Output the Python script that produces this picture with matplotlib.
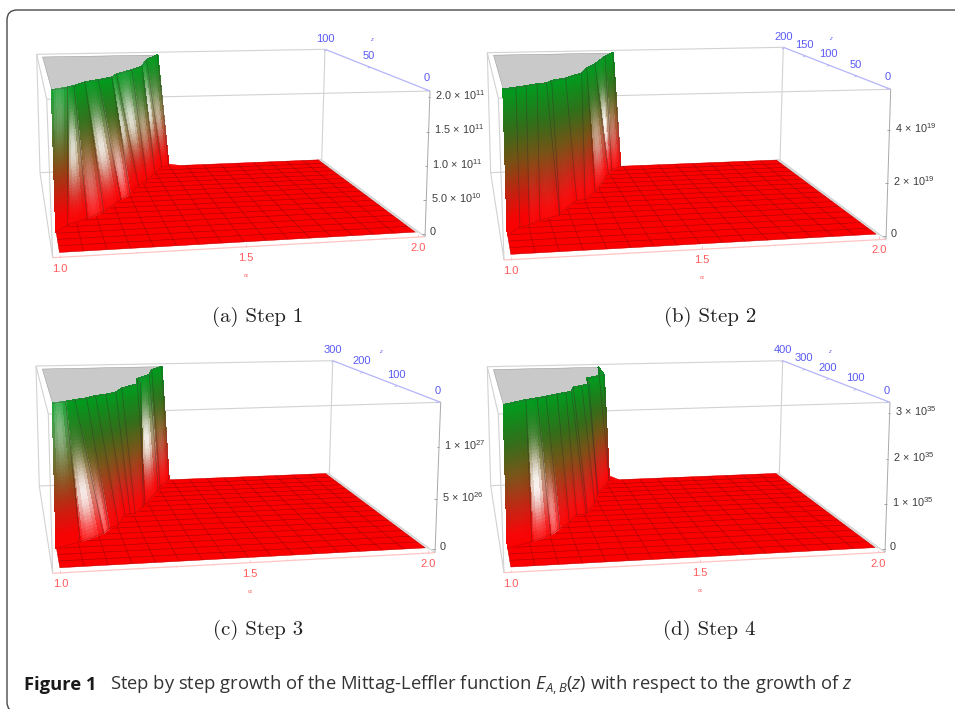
import numpy as np
import matplotlib
matplotlib.use("Agg")
import matplotlib.pyplot as plt
from matplotlib.collections import PolyCollection
from matplotlib.patches import FancyBboxPatch, Polygon

plt.rcParams['mathtext.fontset'] = 'custom'
plt.rcParams['mathtext.rm'] = 'Liberation Sans'
plt.rcParams['mathtext.it'] = 'Liberation Sans:italic'
plt.rcParams['mathtext.default'] = 'regular'
plt.rcParams['axes.unicode_minus'] = False

# ---------------- data ----------------
panel_names = ["(a) Step 1", "(b) Step 2", "(c) Step 3", "(d) Step 4"]
alpha_ticks = [1.0, 1.5, 2.0]
alpha_labels = ["1.0", "1.5", "2.0"]

z_max = [100, 200, 300, 400]
z_ticks = [[0, 50, 100], [0, 50, 100, 150, 200], [0, 100, 200, 300], [0, 100, 200, 300, 400]]
h_max = [2.05e11, 5.4e19, 1.39e27, 3.15e35]
h_ticks = [[0, 5e10, 1e11, 1.5e11, 2e11], [0, 2e19, 4e19], [0, 5e26, 1e27], [0, 1e35, 2e35, 3e35]]
h_labels = [
    ["0", r"5.0$\,\times\,$10$^{10}$", r"1.0$\,\times\,$10$^{11}$", r"1.5$\,\times\,$10$^{11}$", r"2.0$\,\times\,$10$^{11}$"],
    ["0", r"2$\,\times\,$10$^{19}$", r"4$\,\times\,$10$^{19}$"],
    ["0", r"5$\,\times\,$10$^{26}$", r"1$\,\times\,$10$^{27}$"],
    ["0", r"1$\,\times\,$10$^{35}$", r"2$\,\times\,$10$^{35}$", r"3$\,\times\,$10$^{35}$"],
]

# top edge of the wall (where the surface reaches the ceiling) and its foot on the floor
crest_alpha_a = [1.000, 1.045, 1.065, 1.100, 1.142, 1.186, 1.207, 1.264, 1.305, 1.343, 1.399]
crest_z_a = [21, 25, 28, 35, 39, 44, 51, 60, 68, 86, 100]
foot_alpha_a = [1.000, 1.036, 1.096, 1.151, 1.216, 1.253, 1.293, 1.330, 1.371, 1.409, 1.435]
foot_z_a = [20, 27, 33, 40, 54, 61, 72, 79, 89, 99, 100]
glare_a = [.3, .8, .35, .85, .6, .75, .8, .45, .85, .55]
glare_h_a = [.85, .55, .3, .5, .3, .6, .6, .5, .6, .5]

crest_alpha_b = [1.000, 1.035, 1.064, 1.096, 1.123, 1.141, 1.185, 1.242, 1.270, 1.307, 1.365, 1.405]
crest_z_b = [41, 46, 51, 57, 60, 69, 78, 98, 121, 140, 180, 200]
foot_alpha_b = [1.000, 1.038, 1.065, 1.098, 1.158, 1.161, 1.226, 1.252, 1.295, 1.371, 1.390, 1.428]
foot_z_b = [37, 53, 56, 65, 74, 78, 108, 108, 128, 179, 189, 200]
glare_b = [0, 0, .05, .05, .05, .05, .05, .05, .5, .95, .35]
glare_h_b = [.4, .4, .2, .2, .2, .2, .2, .2, .4, .45, .35]

crest_alpha_c = [1.000, 1.036, 1.063, 1.097, 1.125, 1.156, 1.188, 1.214, 1.282, 1.284, 1.334, 1.359, 1.405]
crest_z_c = [63, 70, 78, 86, 99, 105, 116, 142, 173, 205, 233, 273, 300]
foot_alpha_c = [1.000, 1.068, 1.140, 1.162, 1.192, 1.225, 1.241, 1.257, 1.292, 1.302, 1.370, 1.383, 1.428]
foot_z_c = [56, 73, 96, 112, 122, 161, 160, 162, 187, 197, 254, 269, 300]
glare_c = [.45, .9, .5, .05, .05, .05, .05, .05, 0, .9, .3, .2]
glare_h_c = [.8, .35, .2, .3, .3, .3, .3, .3, .3, .5, .4, .35]

crest_alpha_d = [1.000, 1.065, 1.098, 1.125, 1.160, 1.188, 1.206, 1.221, 1.249, 1.277, 1.286, 1.349, 1.358]
crest_z_d = [73, 106, 117, 128, 145, 156, 164, 201, 211, 228, 283, 313, 400]
foot_alpha_d = [1.000, 1.070, 1.128, 1.161, 1.195, 1.226, 1.256, 1.262, 1.300, 1.322, 1.328, 1.391, 1.391]
foot_z_d = [72, 95, 120, 148, 172, 208, 211, 217, 265, 311, 321, 400, 400]
glare_d = [.03, .95, .5, .05, .05, .05, .05, .05, .05, .05, .05, .03]
glare_h_d = [.4, .4, .2, .2, .2, .2, .2, .2, .2, .2, .2, .2]

tail_da = [.04, 0, 0, .035]
tail_h = [.018, 0, 0, .04]

crest_alpha = [crest_alpha_a, crest_alpha_b, crest_alpha_c, crest_alpha_d]
crest_z = [crest_z_a, crest_z_b, crest_z_c, crest_z_d]
foot_alpha = [foot_alpha_a, foot_alpha_b, foot_alpha_c, foot_alpha_d]
foot_z = [foot_z_a, foot_z_b, foot_z_c, foot_z_d]
glare = [glare_a, glare_b, glare_c, glare_d]
glare_h = [glare_h_a, glare_h_b, glare_h_c, glare_h_d]

# ---------------- layout: pixel positions of the eight box corners ----------------
# order: FLB, FRB, BRB, BLB, FLT, FRT, BRT, BLT
box_px = [
    [(52.7, 257.7), (425, 236.7), (321.7, 160), (40, 172.7), (46.7, 99.3), (430, 91), (325, 49.3), (36.7, 54.3)],
    [(504, 260), (886, 239.3), (780, 160), (490.7, 172.7), (498.3, 98.3), (890.7, 89.3), (783.3, 47.3), (487.3, 52.7)],
    [(52.7, 573.3), (435, 552.7), (329.3, 474), (39.3, 486), (48.3, 414), (440.7, 402.3), (332.7, 360.7), (36, 366)],
    [(504, 572.7), (885, 552.3), (779.3, 474), (490.7, 485.7), (498.3, 414), (890, 402.3), (782.7, 360.7), (487.3, 366.7)],
]
box_unit = [(0, 0, 0), (1, 0, 0), (1, 1, 0), (0, 1, 0), (0, 0, 1), (1, 0, 1), (1, 1, 1), (0, 1, 1)]
caption_xy = [(258, 316.5), (709.7, 316.5), (258, 630), (709.7, 630)]
PAD = 0.02

GRAY = "#d2d2d2"
Z_COL, A_COL = "#5a5af5", "#ff5a5a"
Z_LINE, A_LINE = "#b4b4fa", "#ffc4c4"
TXT = "#3c3c3c"

ramp_h = [0, .10, .26, .50, .73, 1.0]
ramp_rgb = np.array([[252, 0, 0], [245, 5, 5], [200, 30, 15], [120, 80, 20], [50, 110, 25], [0, 155, 30]], float) / 255


def fit_camera(px):
    rows = []
    for (X, Y, Z), (u, v) in zip(box_unit, px):
        rows.append([X, Y, Z, 1, 0, 0, 0, 0, -u * X, -u * Y, -u * Z, -u])
        rows.append([0, 0, 0, 0, X, Y, Z, 1, -v * X, -v * Y, -v * Z, -v])
    return np.linalg.svd(np.array(rows))[2][-1].reshape(3, 4)


class Panel:
    def __init__(self, i):
        self.P = fit_camera(box_px[i])
        self.zm = z_max[i]

    def __call__(self, a, z, hfrac):
        a, z, hfrac = np.broadcast_arrays(np.asarray(a, float), np.asarray(z, float), np.asarray(hfrac, float))
        X = (a - 1 + PAD) / (1 + 2 * PAD)
        Y = (z / self.zm + PAD) / (1 + 2 * PAD)
        Z = (hfrac + PAD) / (1 + 2 * PAD)
        q = self.P @ np.array([X, Y, Z, np.ones_like(X)])
        return q[0] / q[2], q[1] / q[2]


fig = plt.figure(figsize=(9.55, 7.09), dpi=100)
ax = fig.add_axes([0, 0, 1, 1])
ax.set_xlim(0, 955)
ax.set_ylim(709, 0)
ax.axis("off")

ax.add_patch(FancyBboxPatch((7, 10), 1100, 702, boxstyle="round,pad=0,rounding_size=10",
                            fc="white", ec="#4a4a4a", lw=1.0, zorder=0))


def seg(p0, p1, col, lw=0.8, z=1):
    ax.plot([p0[0], p1[0]], [p0[1], p1[1]], color=col, lw=lw, zorder=z, solid_capstyle="butt")


def draw_panel(i):
    pr = Panel(i)
    zm = z_max[i]
    corners = box_px[i]
    for a, b in [(3, 2), (7, 6), (4, 5), (3, 7), (2, 6), (3, 0), (7, 4), (4, 0), (2, 1)]:
        seg(corners[a], corners[b], GRAY, 0.8, 1)
    ca, cz = np.array(crest_alpha[i]), np.array(crest_z[i], float)
    fa, fz = np.array(foot_alpha[i]), np.array(foot_z[i], float)

    # floor: only the part in front of / to the right of the wall foot
    da = tail_da[i]
    floor_a = np.r_[1, 2, 2, fa[-1] + da, fa[::-1]]
    floor_z = np.r_[0, 0, zm, zm, fz[::-1]]
    fx, fy = pr(floor_a, floor_z, np.zeros(len(floor_a)))
    floor = Polygon(np.c_[fx, fy], closed=True, fc="#fa0000", ec="#fa0000", lw=0.3, zorder=2)
    ax.add_patch(floor)
    sx, sy = pr([2.006, 2.006], [0, zm], [0, 0])
    ax.plot(sx, sy, color="#d8d8d8", lw=1.3, zorder=2)
    for k in np.linspace(0, 1, 17):
        lx, ly = pr([1 + k, 1 + k], [0, zm], [0, 0])
        l1, = ax.plot(lx, ly, color="#6a0a0a", lw=0.42, alpha=0.55, zorder=3)
        lx, ly = pr([1, 2], [k * zm, k * zm], [0, 0])
        l2, = ax.plot(lx, ly, color="#6a0a0a", lw=0.42, alpha=0.55, zorder=3)
        l1.set_clip_path(floor)
        l2.set_clip_path(floor)
    if da > 0:
        tx, ty = pr([fa[-1], fa[-1], fa[-1] + da], [zm, zm, zm], [0, tail_h[i], 0])
        ax.add_patch(Polygon(np.c_[tx, ty], closed=True, fc="#fa0000", ec="#fa0000", lw=0.3, zorder=4))

    # ceiling (clipped top of the surface)
    gx, gy = pr(np.r_[1, ca[::-1], 1.0], np.r_[zm, cz[::-1], zm], np.ones(len(ca) + 2))
    ax.add_patch(Polygon(np.c_[gx, gy], closed=True, fc="#c9c9c9", ec="#8a8a8a", lw=0.3, zorder=4))

    # wall: strips from the back to the front
    hs = np.linspace(0, 1, 41)
    ss = np.linspace(0, 1, 7)
    polys, cols = [], []
    for j in range(len(ca) - 2, -1, -1):
        for s0, s1 in zip(ss[:-1], ss[1:]):
            sm = 0.5 * (s0 + s1)
            for h0, h1 in zip(hs[:-1], hs[1:]):
                hm = 0.5 * (h0 + h1)
                pts = []
                for s, h in [(s0, h0), (s1, h0), (s1, h1), (s0, h1)]:
                    bot_a = fa[j] + s * (fa[j + 1] - fa[j])
                    bot_z = fz[j] + s * (fz[j + 1] - fz[j])
                    top_a = ca[j] + s * (ca[j + 1] - ca[j])
                    top_z = cz[j] + s * (cz[j + 1] - cz[j])
                    pts.append(pr(bot_a + h * (top_a - bot_a), bot_z + h * (top_z - bot_z), h))
                polys.append([(float(x), float(y)) for x, y in pts])
                base = np.array([np.interp(hm, ramp_h, ramp_rgb[:, c]) for c in range(3)])
                g = glare[i][j] * np.sin(np.pi * sm) ** 0.6 * np.exp(-((hm - glare_h[i][j]) / 0.27) ** 2)
                cols.append(base * (1 - g) + g)
    ax.add_collection(PolyCollection(polys, facecolors=cols, edgecolors=cols, linewidths=0.7,
                                     antialiaseds=False, zorder=5))
    for j in range(1, len(ca)):
        lx, ly = pr([fa[j], ca[j]], [fz[j], cz[j]], [0, 1])
        ax.plot(lx, ly, color="#3a2a2a", lw=0.5, alpha=0.5, zorder=6)
    lx, ly = pr(fa, fz, np.zeros(len(fa)))
    ax.plot(lx, ly, color="#6a0a0a", lw=0.42, alpha=0.45, zorder=6)
    lx, ly = pr(ca, cz, np.ones(len(ca)))
    ax.plot(lx, ly, color="#555555", lw=0.3, zorder=6)

    # axes
    seg(corners[0], corners[1], A_LINE, 0.9, 7)
    seg(corners[5], corners[6], Z_LINE, 0.9, 7)
    seg(corners[1], corners[5], "#a8a8a8", 0.7, 7)
    for t, lab in zip(alpha_ticks, alpha_labels):
        x, y = pr(t, -PAD * zm, -PAD)
        ax.text(x, y + 11.5, lab, color=A_COL, fontsize=8, family="Liberation Sans", ha="center", va="center", zorder=8)
        seg((x, y), (x, y - 2.6), A_LINE, 0.7, 7)
    for t in np.arange(1.1, 2.0, 0.1):
        x, y = pr(t, -PAD * zm, -PAD)
        seg((x, y), (x, y - 1.3), A_LINE, 0.6, 7)
    x, y = pr(1.5, -PAD * zm, -PAD)
    ax.text(x, y + 29, r"$\alpha$", color=A_COL, fontsize=4.5, ha="center", va="center", zorder=8)
    for t in z_ticks[i]:
        x, y = pr(2 + PAD, t, 1 + PAD)
        ax.text(x - 1, y - 11, str(t), color=Z_COL, fontsize=8, family="Liberation Sans", ha="center", va="center", zorder=8)
        seg((x, y), (x - 2.2, y + 1.2), Z_LINE, 0.7, 7)
    x, y = pr(2 + PAD, 0.5 * zm, 1 + PAD)
    ax.text(x + 2, y - 27, r"$\mathit{z}$", color=Z_COL, fontsize=4.5, ha="center", va="center", zorder=8)
    for t, lab in zip(h_ticks[i], h_labels[i]):
        x, y = pr(2 + PAD, -PAD * zm, t / h_max[i])
        ax.text(x + 5, y - 2, lab, color=TXT, fontsize=7.8, family="Liberation Sans", ha="left", va="center", zorder=8)
        seg((x, y), (x - 2.6, y), "#a0a0a0", 0.7, 7)
    cx, cy = caption_xy[i]
    ax.text(cx, cy, panel_names[i], fontsize=15, family="cmr10", ha="center", va="center", color="#222222", zorder=8)


for n in range(4):
    draw_panel(n)

ax.text(24, 685, "Figure 1", fontsize=13.2, family="Open Sans", weight="bold", color="#1a1a1a", ha="left", va="center")
plt.rcParams['mathtext.rm'] = 'Open Sans'
plt.rcParams['mathtext.it'] = 'Open Sans:italic'
ax.text(110, 685, r"Step by step growth of the Mittag-Leffler function $\mathit{E}_{\mathit{A,B}}$($\mathit{z}$) with respect to the growth of $\mathit{z}$",
        fontsize=13.2, family="Open Sans", color="#333333", ha="left", va="center")

fig.savefig("out.png", dpi=100)
